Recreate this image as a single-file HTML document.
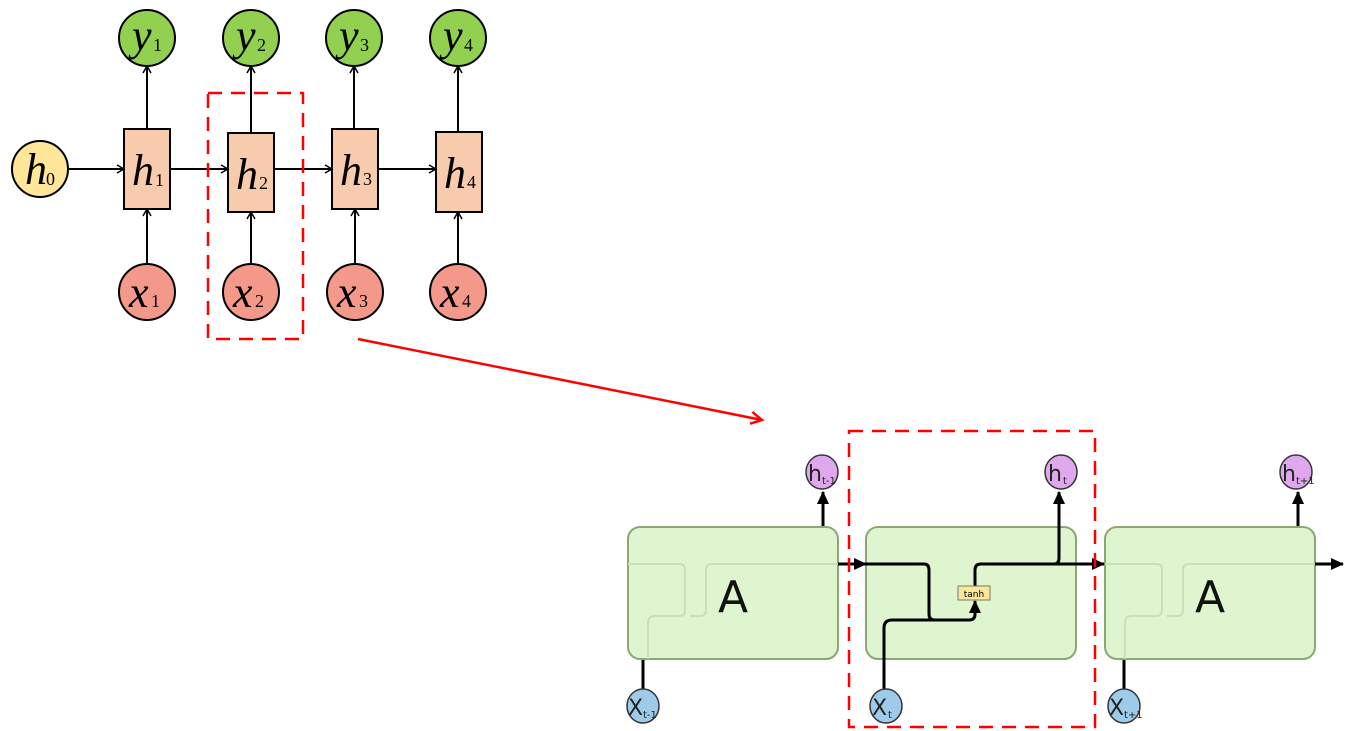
<!DOCTYPE html>
<html><head><style>body{margin:0;background:#fff}svg{display:block}</style></head><body>
<svg width="1369" height="731" viewBox="0 0 1369 731" xmlns="http://www.w3.org/2000/svg">
<defs>
<marker id="oa" markerWidth="10" markerHeight="10" refX="8" refY="5" orient="auto" markerUnits="userSpaceOnUse"><path d="M1,1 L8,5 L1,9" fill="none" stroke="#000" stroke-width="1.5"/></marker>
<marker id="ba" markerWidth="14" markerHeight="14" refX="12" refY="7" orient="auto" markerUnits="userSpaceOnUse"><path d="M0,1 L13,7 L0,13 Z" fill="#000"/></marker>
<marker id="ra" markerWidth="16" markerHeight="16" refX="12" refY="8" orient="auto" markerUnits="userSpaceOnUse"><path d="M1,2 L12,8 L1,14" fill="none" stroke="#f00" stroke-width="2.5"/></marker>
</defs>
<g font-family="Liberation Serif, serif" stroke="#000" stroke-width="2">
<g stroke-width="2" marker-end="url(#oa)">
<line x1="68" y1="169" x2="124" y2="169"/>
<line x1="170" y1="169" x2="228" y2="169"/>
<line x1="274" y1="169" x2="332" y2="169"/>
<line x1="378" y1="169" x2="436" y2="169"/>
<line x1="147" y1="129" x2="147" y2="66"/>
<line x1="251" y1="133" x2="251" y2="66"/>
<line x1="354" y1="129" x2="354" y2="66"/>
<line x1="458" y1="132" x2="458" y2="66"/>
<line x1="147" y1="264" x2="147" y2="209"/>
<line x1="251" y1="264" x2="251" y2="212"/>
<line x1="355" y1="264" x2="355" y2="209"/>
<line x1="458" y1="264" x2="458" y2="212"/>
</g>
<circle cx="40" cy="169" r="28" fill="#ffe699"/>
<rect x="124" y="129" width="46" height="80" fill="#f8cbad"/>
<rect x="228" y="133" width="46" height="79" fill="#f8cbad"/>
<rect x="332" y="129" width="46" height="80" fill="#f8cbad"/>
<rect x="436" y="132" width="46" height="80" fill="#f8cbad"/>
<g fill="#92d050"><circle cx="147" cy="38" r="28"/><circle cx="251" cy="38" r="28"/><circle cx="354" cy="38" r="28"/><circle cx="458" cy="38" r="28"/></g>
<g fill="#f4998a"><circle cx="147" cy="292" r="28"/><circle cx="251" cy="292" r="28"/><circle cx="355" cy="292" r="28"/><circle cx="458" cy="292" r="28"/></g>
</g>
<g font-family="Liberation Serif, serif" fill="#000">
<g font-style="italic" font-size="44">
<text x="25" y="184">h</text>
<text x="132" y="185">h</text><text x="236" y="189">h</text><text x="340" y="185">h</text><text x="444" y="188">h</text>
<text x="132" y="50">y</text><text x="236" y="50">y</text><text x="339" y="50">y</text><text x="443" y="50">y</text>
<text x="129" y="307">x</text><text x="233" y="307">x</text><text x="337" y="307">x</text><text x="440" y="307">x</text>
</g>
<g font-size="18">
<text x="46" y="185">0</text>
<text x="155" y="186">1</text><text x="259" y="189">2</text><text x="363" y="185">3</text><text x="467" y="188">4</text>
<text x="153" y="51">1</text><text x="257" y="51">2</text><text x="360" y="51">3</text><text x="464" y="51">4</text>
<text x="151" y="307">1</text><text x="255" y="307">2</text><text x="359" y="307">3</text><text x="462" y="307">4</text>
</g>
</g>
<rect x="208" y="93" width="95" height="246" fill="none" stroke="#f00" stroke-width="2.5" stroke-dasharray="14,9"/>
<line x1="358" y1="339" x2="762" y2="420" stroke="#f00" stroke-width="2.5" marker-end="url(#ra)"/>

<g stroke="#000" stroke-width="3" fill="none">
<line x1="823" y1="527" x2="823" y2="492" marker-end="url(#ba)"/>
<line x1="1298" y1="527" x2="1298" y2="492" marker-end="url(#ba)"/>
<line x1="643" y1="690" x2="643" y2="655"/>
<line x1="1124" y1="690" x2="1124" y2="655"/>
</g>
<g fill="#dff5d0" stroke="#8aa874" stroke-width="2">
<rect x="628" y="527" width="210" height="132" rx="12"/>
<rect x="866" y="527" width="210" height="132" rx="12"/>
<rect x="1105" y="527" width="210" height="132" rx="12"/>
</g>
<g stroke="#c8e0b8" stroke-width="2" fill="none">
<path d="M628,564 H680 Q685,564 685,570 V610 Q685,616 679,616 H655 Q648,616 648,623 V659"/>
<path d="M690,616 H700 Q706,616 706,610 V570 Q706,564 712,564 H838"/>
<path d="M1105,564 H1157 Q1162,564 1162,570 V610 Q1162,616 1156,616 H1132 Q1125,616 1125,623 V659"/>
<path d="M1167,616 H1177 Q1183,616 1183,610 V570 Q1183,564 1189,564 H1315"/>
</g>
<g stroke="#000" stroke-width="3" fill="none">
<line x1="838" y1="564" x2="866" y2="564" marker-end="url(#ba)"/>
<path d="M866,564 H924 Q929,564 929,570 V614 Q929,620 935,620 H969 Q975,620 975,614 V601" marker-end="url(#ba)"/>
<path d="M884,690 V628 Q884,620 892,620 H935"/>
<path d="M975,586 V570 Q975,564 981,564 H1054 Q1059,564 1059,558 V492" marker-end="url(#ba)"/>
<line x1="1054" y1="564" x2="1104" y2="564" marker-end="url(#ba)"/>
<line x1="1315" y1="564" x2="1343" y2="564" marker-end="url(#ba)"/>
</g>
<rect x="958" y="586" width="32" height="14" fill="#fbe79a" stroke="#776" stroke-width="1"/>
<text x="974" y="597" font-family="DejaVu Sans, sans-serif" font-size="9" text-anchor="middle">tanh</text>
<g font-family="DejaVu Sans, sans-serif" fill="#111">
<text x="733" y="612" font-size="44" text-anchor="middle">A</text>
<text x="1210" y="612" font-size="44" text-anchor="middle">A</text>
</g>
<g stroke="#333" stroke-width="1.5">
<ellipse cx="822" cy="472" rx="16" ry="17" fill="#dfa8ee"/>
<ellipse cx="1061" cy="472" rx="16" ry="17" fill="#dfa8ee"/>
<ellipse cx="1296" cy="472" rx="16" ry="17" fill="#dfa8ee"/>
<ellipse cx="643" cy="706" rx="16" ry="17" fill="#9fcbea"/>
<ellipse cx="886" cy="706" rx="16" ry="17" fill="#9fcbea"/>
<ellipse cx="1124" cy="706" rx="16" ry="17" fill="#9fcbea"/>
</g>
<g font-family="DejaVu Sans, sans-serif" fill="#222">
<text x="808" y="481" font-size="22">h</text><text x="822" y="484" font-size="10">t-1</text>
<text x="1048" y="481" font-size="22">h</text><text x="1063" y="484" font-size="10">t</text>
<text x="1282" y="481" font-size="22">h</text><text x="1296" y="484" font-size="10">t+1</text>
<text x="628" y="715" font-size="22">X</text><text x="643" y="718" font-size="10">t-1</text>
<text x="872" y="715" font-size="22">X</text><text x="888" y="718" font-size="10">t</text>
<text x="1109" y="715" font-size="22">X</text><text x="1124" y="718" font-size="10">t+1</text>
</g>
<rect x="849" y="431" width="246" height="296" fill="none" stroke="#f00" stroke-width="2.5" stroke-dasharray="14,9"/>
</svg>
</body></html>
